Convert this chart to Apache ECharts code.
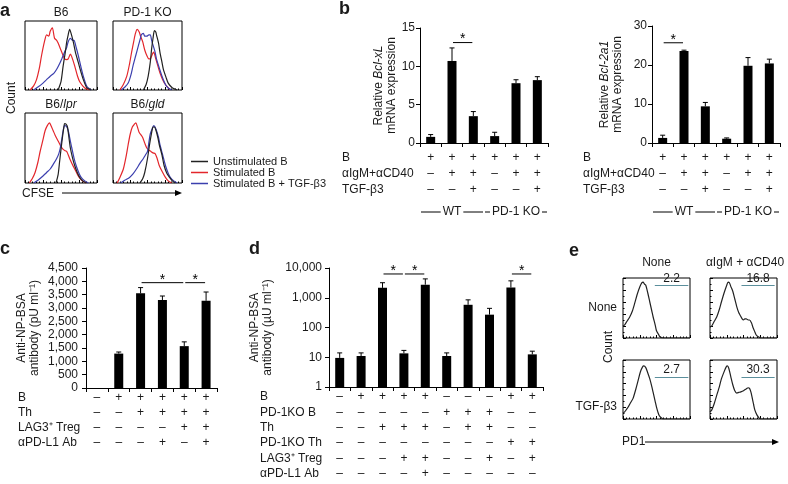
<!doctype html>
<html>
<head>
<meta charset="utf-8">
<title>Figure</title>
<style>
  html, body { margin: 0; padding: 0; background: #fff; }
  #chart { width: 788px; height: 484px; }
</style>
</head>
<body>
<div id="chart"></div>
<script src="https://cdn.jsdelivr.net/npm/echarts@6/dist/echarts.min.js"></script>
<script>
// ---------- data ----------
// panel a: CFSE histograms, [channel %, count %]
var aTitles = ['B6', 'PD-1 KO', 'B6/{i|lpr}', 'B6/{i|gld}'];
var aNames = ['Unstimulated B', 'Stimulated B', 'Stimulated B + TGF-\u03b23'];
var aUnstim = [
  [[46,0],[50,12],[53,35],[56,55],[58,70],[60,80],[62,88],[64,82],[67,70],[70,55],[74,40],[78,25],[81,15],[86,3],[92,0]],
  [[44,0],[48,8],[51,20],[54,40],[56,60],[58,75],[60,86],[62,84],[63,80],[66,68],[68,55],[71,40],[73,30],[77,18],[80,10],[85,4],[88,2],[93,0]],
  [[43,0],[46,12],[48,30],[50,48],[52,65],[54,80],[55,85],[57,84],[59,80],[61,65],[63,50],[66,36],[69,25],[73,14],[76,8],[80,3],[85,0]],
  [[39,0],[43,6],[46,15],[50,35],[53,55],[56,72],[58,80],[60,80],[62,76],[65,65],[67,55],[71,40],[74,25],[78,14],[82,8],[86,3],[90,0]]
];
var aStim = [
  [[7,0],[12,6],[16,15],[20,32],[23,50],[27,70],[30,80],[33,78],[35,85],[38,90],[41,75],[44,72],[46,68],[51,55],[55,45],[58,44],[60,45],[63,52],[65,48],[69,35],[73,20],[76,12],[83,3],[90,0]],
  [[10,0],[15,8],[20,20],[24,38],[27,55],[30,70],[32,80],[35,88],[38,84],[40,78],[43,70],[46,58],[49,50],[52,45],[54,45],[57,52],[59,55],[62,45],[65,35],[68,25],[72,15],[76,8],[83,0]],
  [[6,0],[10,6],[14,15],[18,30],[21,45],[25,62],[28,75],[31,82],[34,86],[36,82],[39,75],[42,68],[46,60],[50,52],[53,48],[56,46],[58,45],[62,35],[66,26],[69,20],[73,12],[76,7],[80,3],[85,0]],
  [[6,0],[10,8],[15,20],[19,38],[22,55],[25,70],[28,80],[31,84],[33,86],[36,78],[38,72],[41,68],[43,65],[46,57],[49,50],[52,47],[55,45],[58,43],[61,42],[64,35],[67,25],[72,15],[76,8],[80,3],[85,0]]
];
var aStimTgf = [
  [[12,0],[19,5],[25,10],[30,15],[35,20],[40,24],[44,30],[48,38],[51,45],[55,55],[58,62],[60,70],[63,75],[66,72],[68,72],[71,62],[74,50],[78,32],[81,20],[86,5],[92,0]],
  [[12,0],[17,4],[22,10],[26,22],[29,35],[33,50],[37,65],[40,76],[41,80],[44,82],[46,78],[49,78],[52,80],[54,80],[56,72],[58,65],[61,55],[63,45],[67,32],[71,20],[76,8],[80,3],[85,0]],
  [[12,0],[18,4],[25,10],[30,15],[35,20],[40,28],[44,35],[47,42],[49,50],[51,62],[53,75],[55,82],[56,82],[58,80],[60,75],[63,60],[65,50],[68,36],[71,25],[75,14],[78,8],[83,3],[88,0]],
  [[11,0],[17,4],[24,8],[29,13],[34,20],[39,28],[44,35],[47,40],[50,45],[52,58],[54,70],[57,78],[59,82],[61,80],[63,75],[66,65],[68,55],[72,40],[76,25],[80,14],[83,8],[88,3],[93,0]]
];

// panel b: relative mRNA expression
var bRowTitles = ['B', '\u03b1IgM+\u03b1CD40', 'TGF-\u03b23'];
var bRowB = ['+', '+', '+', '+', '+', '+'];
var bRowStim = ['\u2013', '+', '+', '\u2013', '+', '+'];
var bRowTgf = ['\u2013', '\u2013', '+', '\u2013', '\u2013', '+'];
var bGenotypes = ['WT', 'PD-1 KO'];
var bGenotypeSpan = [[0, 2], [3, 5]];
var bclxlMean = [0.8, 10.7, 3.5, 0.9, 7.8, 8.2];
var bclxlSd = [0.3, 1.7, 0.6, 0.5, 0.45, 0.45];
var bclxlSig = [[1, 2, 13.1]];
var bcl2a1Mean = [1.3, 23.6, 9.4, 1.1, 19.8, 20.4];
var bcl2a1Sd = [0.7, 0.2, 1.0, 0.2, 2.1, 1.1];
var bcl2a1Sig = [[0, 1, 25.7]];

// panel c: anti-NP-BSA antibody, linear
var cRowTitles = ['B', 'Th', 'LAG3\u207a Treg', '\u03b1PD-L1 Ab'];
var cRowB = ['\u2013', '+', '+', '+', '+', '+'];
var cRowTh = ['\u2013', '\u2013', '+', '+', '+', '+'];
var cRowTreg = ['\u2013', '\u2013', '\u2013', '\u2013', '+', '+'];
var cRowPdl1 = ['\u2013', '\u2013', '\u2013', '+', '\u2013', '+'];
var cMean = [0, 1290, 3550, 3300, 1570, 3270];
var cSd = [0, 60, 215, 150, 160, 330];
var cSig = [[2, 4, 3950], [4, 5, 3950]];

// panel d: anti-NP-BSA antibody, log
var dRowTitles = ['B', 'PD-1KO B', 'Th', 'PD-1KO Th', 'LAG3\u207a Treg', '\u03b1PD-L1 Ab'];
var dRowB = ['\u2013', '+', '+', '+', '+', '\u2013', '\u2013', '\u2013', '+', '+'];
var dRowKoB = ['\u2013', '\u2013', '\u2013', '\u2013', '\u2013', '+', '+', '+', '\u2013', '\u2013'];
var dRowTh = ['\u2013', '\u2013', '+', '+', '+', '\u2013', '+', '+', '\u2013', '\u2013'];
var dRowKoTh = ['\u2013', '\u2013', '\u2013', '\u2013', '\u2013', '\u2013', '\u2013', '\u2013', '+', '+'];
var dRowTreg = ['\u2013', '\u2013', '\u2013', '+', '+', '\u2013', '\u2013', '+', '\u2013', '+'];
var dRowPdl1 = ['\u2013', '\u2013', '\u2013', '\u2013', '+', '\u2013', '\u2013', '\u2013', '\u2013', '\u2013'];
var dMean = [9.5, 11, 2150, 13.5, 2750, 11, 580, 270, 2200, 12.5];
var dSd = [4.5, 3, 1050, 3.5, 1550, 3, 270, 170, 1500, 3.5];
var dSig = [[2, 3, 6300], [3, 4, 6300], [8, 9, 6300]];

// panel e: PD1 histograms
var eCols = ['None', '\u03b1IgM + \u03b1CD40'];
var eRows = ['None', 'TGF-\u03b23'];
var eCurves = [
  [[0,20],[2.5,22],[6,28],[10,35],[14,45],[17.5,58],[21,72],[25,85],[28,92],[30,93],[32,90],[34,88],[37,75],[40,60],[43,45],[45,35],[48,22],[50,12],[53,6],[55,2],[60,0],[100,0]],
  [[0,18],[2.5,20],[6,27],[10,35],[14,48],[17,60],[21,75],[25,88],[27,93],[29,92],[31,86],[34,78],[37,65],[40,52],[43,42],[45,38],[48,32],[50,30],[52,32],[54,32],[57,30],[59,30],[62,25],[64,18],[67,10],[69,5],[72,2],[76,0],[100,0]],
  [[0,10],[2.5,12],[5,16],[7.5,20],[11,27],[15,35],[19,50],[22.5,65],[26,80],[29,88],[31,90],[34,87],[37,78],[40,68],[43,55],[45,45],[48,30],[50,20],[52,12],[54,6],[57,2],[60,0],[100,0]],
  [[0,12],[2.5,15],[6,25],[10,40],[14,55],[17,68],[21,80],[24,88],[26,90],[28,86],[31,72],[34,58],[37,48],[40,44],[43,45],[46,46],[50,48],[54,51],[57,53],[59,52],[61,46],[63,36],[65,25],[67,15],[70,7],[73,2],[76,0],[100,0]]
];
var eGateFrom = [47.5, 47, 47.5, 47];
var eGateTo = [97.5, 96.5, 97.5, 96.5];
var eGateLevel = [88, 88, 71, 71];
var eGatePct = ['2.2', '16.8', '2.7', '30.3'];

// ---------- layout ----------
var FONT = "'Liberation Sans', Arial, Helvetica, sans-serif";
var INK = '#1a1a1a';
var grids = [], xAxes = [], yAxes = [], series = [], graphics = [];

function addGrid(box, border) {
  grids.push({
    left: box[0], top: box[1], width: box[2], height: box[3],
    show: !!border, borderColor: '#000', borderWidth: 1
  });
  return grids.length - 1;
}

function text(x, y, str, opt) {
  opt = opt || {};
  var style = {
    text: str, fill: INK,
    font: (opt.weight || 'normal') + ' ' + (opt.size || 12) + 'px ' + FONT,
    align: opt.align || 'left', verticalAlign: opt.va || 'middle'
  };
  if (opt.rich) style.rich = opt.rich;
  graphics.push({ type: 'text', x: x, y: y, rotation: opt.rot || 0, style: style });
}

function arrow(x1, x2, y) {
  graphics.push({ type: 'line', shape: { x1: x1, y1: y, x2: x2 - 5, y2: y }, style: { stroke: '#000', lineWidth: 1 } });
  graphics.push({ type: 'polygon', shape: { points: [[x2, y], [x2 - 7, y - 3], [x2 - 7, y + 3]] }, style: { fill: '#000' } });
}

// flow histogram boxes
function flowBox(box, leftTicks) {
  var g = addGrid(box, true);
  xAxes.push({
    type: 'value', gridIndex: g, min: 0, max: 100, interval: 25,
    axisLine: { show: false }, splitLine: { show: false }, axisLabel: { show: false },
    axisTick: { show: true, inside: true, length: 3, lineStyle: { color: '#000' } },
    minorTick: { show: true, splitNumber: 5, length: 1.5, lineStyle: { color: '#000' } }
  });
  yAxes.push({
    type: 'value', gridIndex: g, min: 0, max: 100, interval: 20,
    axisLine: { show: false }, splitLine: { show: false }, axisLabel: { show: false },
    axisTick: { show: leftTicks, inside: true, length: 3, lineStyle: { color: '#000' } },
    minorTick: { show: leftTicks, splitNumber: 2, length: 1.5, lineStyle: { color: '#000' } }
  });
  return { x: xAxes.length - 1, y: yAxes.length - 1 };
}

function curve(ax, name, data, color) {
  var s = {
    type: 'line', name: name, xAxisIndex: ax.x, yAxisIndex: ax.y, data: data,
    symbol: 'none', smooth: 0.25, lineStyle: { width: 1.2, color: color }, itemStyle: { color: color },
    z: 3
  };
  series.push(s);
  return s;
}

var aBoxes = [[25, 21, 72, 69], [113, 21, 69, 69], [25, 113, 72, 70], [113, 113, 69, 70]];
var aColors = ['#222', '#e3262b', '#3b3fae'];
var italicRich = { i: { fontStyle: 'italic', fontSize: 12, fontFamily: FONT, fill: INK } };
aBoxes.forEach(function (b, i) {
  var ax = flowBox(b, false);
  curve(ax, aNames[1], aStim[i], aColors[1]);
  curve(ax, aNames[2], aStimTgf[i], aColors[2]);
  curve(ax, aNames[0], aUnstim[i], aColors[0]);
  text(b[0] + b[2] / 2, b[1] - 8, aTitles[i], { align: 'center', rich: italicRich });
});

// bar charts
function errRender(params, api) {
  var sd = api.value(2);
  var i = api.value(0), m = api.value(1);
  if (!sd) return { type: 'group', children: [] };
  var p0 = api.coord([i, m]), p1 = api.coord([i, m + sd]);
  return { type: 'group', children: [
    { type: 'line', shape: { x1: p0[0], y1: p0[1], x2: p1[0], y2: p1[1] }, style: { stroke: '#000', lineWidth: 1 } },
    { type: 'line', shape: { x1: p1[0] - 2.5, y1: p1[1], x2: p1[0] + 2.5, y2: p1[1] }, style: { stroke: '#000', lineWidth: 1 } }
  ] };
}

function sigRender(params, api) {
  var a = api.coord([api.value(0), api.value(2)]);
  var b = api.coord([api.value(1), api.value(2)]);
  return { type: 'group', children: [
    { type: 'line', shape: { x1: a[0] + 1, y1: a[1], x2: b[0] - 1, y2: b[1] }, style: { stroke: '#000', lineWidth: 1 } },
    { type: 'text', x: (a[0] + b[0]) / 2, y: a[1] - 3, style: { text: '*', align: 'center', verticalAlign: 'middle', font: '14px ' + FONT, fill: '#000' } }
  ] };
}

function barPanel(cfg) {
  var g = addGrid(cfg.box, false);
  var xi = xAxes.length;
  xAxes.push({
    type: 'category', gridIndex: g, data: cfg.mean.map(function (v, i) { return String(i); }),
    axisLine: { show: true, lineStyle: { color: '#000', width: 1 } },
    axisTick: { show: true, length: 4, lineStyle: { color: '#000' } },
    axisLabel: { show: false }, splitLine: { show: false }
  });
  cfg.rows.forEach(function (row, r) {
    xAxes.push({
      type: 'category', gridIndex: g, data: row, position: 'bottom', offset: r * cfg.rowStep,
      axisLine: { show: false }, axisTick: { show: false }, splitLine: { show: false },
      axisLabel: { margin: cfg.rowFirst, verticalAlign: 'middle', interval: 0, fontSize: 12, fontFamily: FONT, color: INK }
    });
    text(cfg.rowX, cfg.box[1] + cfg.box[3] + cfg.rowFirst + r * cfg.rowStep, cfg.rowTitles[r]);
  });
  var yi = yAxes.length;
  var y = cfg.y;
  y.gridIndex = g;
  y.axisLine = { show: true, lineStyle: { color: '#000', width: 1 } };
  y.axisTick = { show: true, length: 4, lineStyle: { color: '#000' } };
  y.splitLine = { show: false };
  y.axisLabel = { margin: cfg.labelMargin, fontSize: 12, fontFamily: FONT, color: INK, formatter: function (v) { return Number(v).toLocaleString('en-US'); } };
  y.nameLocation = 'middle';
  y.nameGap = cfg.nameGap;
  y.nameTextStyle = { rich: {
    n: { fontSize: 12, fontFamily: FONT, color: INK, lineHeight: 13 },
    i: { fontSize: 12, fontFamily: FONT, color: INK, lineHeight: 13, fontStyle: 'italic' }
  } };
  yAxes.push(y);
  series.push({
    type: 'bar', xAxisIndex: xi, yAxisIndex: yi, data: cfg.mean, barWidth: 9,
    itemStyle: { color: '#000' }, silent: true
  });
  series.push({
    type: 'custom', xAxisIndex: xi, yAxisIndex: yi, renderItem: errRender, clip: false, z: 4,
    encode: { x: 0, y: 1 },
    data: cfg.mean.map(function (m, i) { return [i, m, cfg.sd[i]]; })
  });
  series.push({
    type: 'custom', xAxisIndex: xi, yAxisIndex: yi, renderItem: sigRender, clip: false, z: 4,
    encode: { x: 0, y: 2 }, data: cfg.sig
  });
  if (cfg.groups) {
    series.push({
      type: 'custom', xAxisIndex: xi, yAxisIndex: yi, clip: false, z: 4,
      encode: { x: 0, y: 2 },
      data: cfg.groupSpan.map(function (s) { return [s[0], s[1], 0]; }),
      renderItem: function (params, api) {
        var band = api.size([1, 0])[0];
        var l = api.coord([api.value(0), 0]), r = api.coord([api.value(1), 0]);
        var x1 = l[0] - band / 2 + 1, x2 = r[0] + band / 2 - 1, yy = l[1] + cfg.groupOffset;
        return { type: 'group', children: [
          { type: 'line', shape: { x1: x1, y1: yy, x2: x2, y2: yy }, style: { stroke: '#000', lineWidth: 1 } },
          { type: 'text', x: (x1 + x2) / 2, y: yy, z2: 2, style: { text: cfg.groups[params.dataIndex], align: 'center', verticalAlign: 'middle',
            font: '12px ' + FONT, fill: INK, backgroundColor: '#fff', padding: [0, 2] } }
        ] };
      }
    });
  }
}

barPanel({
  box: [420, 28, 128, 115], mean: bclxlMean, sd: bclxlSd, sig: bclxlSig,
  rows: [bRowB, bRowStim, bRowTgf], rowTitles: bRowTitles, rowX: 342, rowFirst: 15, rowStep: 16,
  groups: bGenotypes, groupSpan: bGenotypeSpan, groupOffset: 69,
  labelMargin: 5, nameGap: 18,
  y: { type: 'value', min: 0, max: 15, interval: 5, name: '{n|Relative }{i|Bcl-xL}\n{n|mRNA expression}' }
});
barPanel({
  box: [652, 26, 128, 117], mean: bcl2a1Mean, sd: bcl2a1Sd, sig: bcl2a1Sig,
  rows: [bRowB, bRowStim, bRowTgf], rowTitles: bRowTitles, rowX: 583, rowFirst: 15, rowStep: 16,
  groups: bGenotypes, groupSpan: bGenotypeSpan, groupOffset: 69,
  labelMargin: 5, nameGap: 28,
  y: { type: 'value', min: 0, max: 30, interval: 10, name: '{n|Relative }{i|Bcl-2a1}\n{n|mRNA expression}' }
});
barPanel({
  box: [86, 268, 131, 120], mean: cMean, sd: cSd, sig: cSig,
  rows: [cRowB, cRowTh, cRowTreg, cRowPdl1], rowTitles: cRowTitles, rowX: 18, rowFirst: 10, rowStep: 15,
  labelMargin: 8, nameGap: 45,
  y: { type: 'value', min: 0, max: 4500, interval: 500, name: '{n|Anti-NP-BSA}\n{n|antibody (pU ml\u207b\u00b9)}' }
});
barPanel({
  box: [329, 268, 214, 119], mean: dMean, sd: dSd, sig: dSig,
  rows: [dRowB, dRowKoB, dRowTh, dRowKoTh, dRowTreg, dRowPdl1], rowTitles: dRowTitles, rowX: 260, rowFirst: 10, rowStep: 15.3,
  labelMargin: 7, nameGap: 55,
  y: { type: 'log', logBase: 10, min: 1, max: 10000, name: '{n|Anti-NP-BSA}\n{n|antibody (\u00b5U ml\u207b\u00b9)}' }
});

// panel e
var eBoxes = [[623, 278, 67, 60], [710, 278, 67, 60], [623, 360, 67, 59], [710, 360, 67, 59]];
eBoxes.forEach(function (b, i) {
  var ax = flowBox(b, true);
  var s = curve(ax, 'PD1', eCurves[i], '#222');
  s.markLine = {
    symbol: 'none', silent: true, animation: false,
    lineStyle: { color: '#5b8f9c', width: 1, type: 'solid' },
    label: { show: true, position: 'middle', formatter: eGatePct[i], fontSize: 12, fontFamily: FONT, color: INK, distance: 1 },
    data: [[{ coord: [eGateFrom[i], eGateLevel[i]] }, { coord: [eGateTo[i], eGateLevel[i]] }]]
  };
});
text(656.5, 263, eCols[0], { align: 'center' });
text(745, 263, eCols[1], { align: 'center' });
text(617, 308, eRows[0], { align: 'right' });
text(617, 407, eRows[1], { align: 'right' });
text(609, 347, 'Count', { align: 'center', rot: Math.PI / 2 });
text(622, 442, 'PD1');
arrow(645, 779, 442);

// panel a annotations
text(12, 98, 'Count', { align: 'center', rot: Math.PI / 2 });
text(22, 194, 'CFSE');
arrow(62, 182, 193);

// panel letters
text(0, 2, 'a', { weight: 'bold', size: 18, va: 'top' });
text(339, 0, 'b', { weight: 'bold', size: 18, va: 'top' });
text(0, 240, 'c', { weight: 'bold', size: 18, va: 'top' });
text(249, 240, 'd', { weight: 'bold', size: 18, va: 'top' });
text(569, 242, 'e', { weight: 'bold', size: 18, va: 'top' });

var chart = echarts.init(document.getElementById('chart'));
chart.setOption({
  animation: false,
  backgroundColor: '#fff',
  textStyle: { fontFamily: FONT },
  legend: {
    data: aNames, left: 186, top: 151, orient: 'vertical', icon: 'rect',
    itemWidth: 17, itemHeight: 1.5, itemGap: 0, selectedMode: false,
    textStyle: { fontSize: 11, fontFamily: FONT, color: INK }
  },
  grid: grids,
  xAxis: xAxes,
  yAxis: yAxes,
  series: series,
  graphic: { elements: graphics }
});
</script>
</body>
</html>
